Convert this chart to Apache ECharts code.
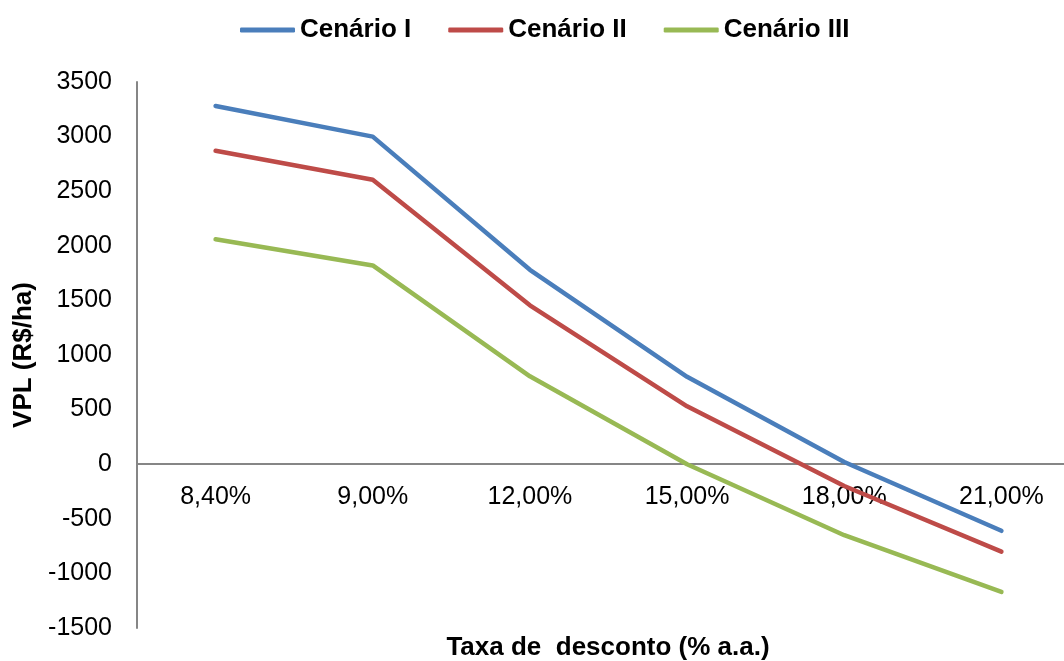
<!DOCTYPE html>
<html><head><meta charset="utf-8">
<script src="https://cdn.jsdelivr.net/npm/echarts@6/dist/echarts.min.js"></script>
<style>html,body{margin:0;padding:0;background:#fff}#c{width:1064px;height:661px}</style>
</head><body><div id="c"></div>
<script>
const categories = ['8,40%', '9,00%', '12,00%', '15,00%', '18,00%', '21,00%'];
const seriesNames = ['Cenário I', 'Cenário II', 'Cenário III'];
const cenario1 = [3280, 3000, 1780, 800, 20, -610];
const cenario2 = [2870, 2605, 1455, 530, -200, -800];
const cenario3 = [2060, 1820, 805, 0, -650, -1170];
const colors = ['#4a7ebb', '#be4b48', '#98b954'];

const chart = echarts.init(document.getElementById('c'), null, {renderer: 'canvas'});
const mk = (name, data, color) => ({
  name, type: 'line', data, symbol: 'none', smooth: false,
  lineStyle: {width: 4.5, color, cap: 'round', join: 'round'},
  itemStyle: {color}
});
const font = 'Liberation Sans, Arial, sans-serif';
chart.setOption({
  animation: false,
  backgroundColor: '#fff',
  legend: {
    top: 12, left: 235,
    itemWidth: 55, itemHeight: 5, itemGap: 37,
    icon: 'roundRect',
    textStyle: {fontFamily: font, fontWeight: 'bold', fontSize: 26, color: '#000'},
    data: seriesNames
  },
  grid: {left: 137, top: 82, bottom: 33, right: -16, containLabel: false, outerBoundsMode: 'none'},
  xAxis: [{
    type: 'category', data: categories, boundaryGap: true,
    axisLine: {onZero: true, lineStyle: {color: '#868686', width: 2}},
    axisTick: {show: false},
    axisLabel: {show: false}
  }, {
    type: 'category', data: categories, boundaryGap: true, position: 'bottom', offset: -164,
    axisLine: {show: false, onZero: false},
    axisTick: {show: false},
    axisLabel: {margin: 21, fontFamily: font, fontSize: 25, color: '#000'}
  }],
  yAxis: {
    type: 'value', min: -1500, max: 3500, interval: 500,
    name: 'VPL (R$/ha)', nameLocation: 'middle', nameGap: 98, nameRotate: 90,
    nameTextStyle: {fontFamily: font, fontWeight: 'bold', fontSize: 26, color: '#000'},
    axisLine: {show: true, lineStyle: {color: '#868686', width: 2}},
    axisTick: {show: false},
    splitLine: {show: false},
    axisLabel: {margin: 25, fontFamily: font, fontSize: 25, color: '#000', formatter: v => String(v)}
  },
  graphic: [{
    type: 'text', x: 608, y: 635,
    style: {text: 'Taxa de  desconto (% a.a.)', align: 'center', textAlign: 'center', fontFamily: font, fontWeight: 'bold', fontSize: 26, fill: '#000'}
  }],
  series: [mk(seriesNames[0], cenario1, colors[0]), mk(seriesNames[1], cenario2, colors[1]), mk(seriesNames[2], cenario3, colors[2])]
});
</script></body></html>
